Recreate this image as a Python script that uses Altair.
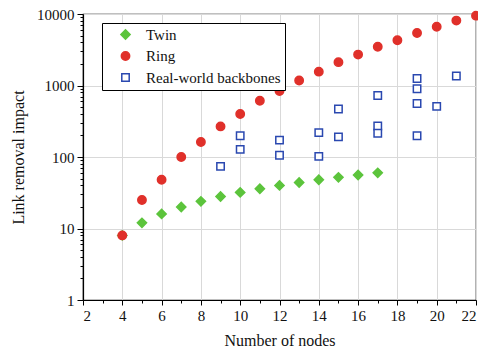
import altair as alt
import pandas as pd

series_names = ["Twin", "Ring", "Real-world backbones"]

twin_nodes = [4, 5, 6, 7, 8, 9, 10, 11, 12, 13, 14, 15, 16, 17]
twin_vals = [8, 12, 16, 20, 24, 28, 32, 36, 40, 44, 48, 52, 56, 60]

ring_nodes = [4, 5, 6, 7, 8, 9, 10, 11, 12, 13, 14, 15, 16, 17, 18, 19, 20, 21, 22]
ring_vals = [8, 25, 48, 100, 162, 268, 400, 611, 839, 1173, 1560, 2120, 2705,
             3485, 4295, 5430, 6625, 8090, 9480]

real_nodes = [9, 10, 10, 12, 12, 14, 14, 15, 15, 17, 17, 17, 19, 19, 19, 19, 20, 21]
real_vals = [74, 198, 128, 172, 106, 219, 102, 469, 191, 723, 271, 215,
             1250, 902, 561, 198, 510, 1360]

x_ticks = [2, 3, 4, 5, 6, 7, 8, 9, 10, 11, 12, 13, 14, 15, 16, 17, 18, 19, 20, 21, 22]
y_ticks = [m * d for d in [1, 10, 100, 1000] for m in range(1, 10)] + [10000]

rows = []
for n, v in zip(twin_nodes, twin_vals):
    rows.append({"nodes": n, "impact": v, "series": series_names[0]})
for n, v in zip(ring_nodes, ring_vals):
    rows.append({"nodes": n, "impact": v, "series": series_names[1]})
for n, v in zip(real_nodes, real_vals):
    rows.append({"nodes": n, "impact": v, "series": series_names[2]})
df = pd.DataFrame(rows)

stroke_colors = ["#5cc43c", "#e0302a", "#2a48b0"]
fill_colors = ["#5cc43c", "#e0302a", "#ffffff"]
shapes = ["diamond", "circle", "square"]
sizes = [85, 55, 42]

FONT = "Liberation Serif"
x_major_test = "datum.value % 2 == 0"
y_major_test = "indexof([1, 10, 100, 1000, 10000], datum.value) >= 0"

legend = alt.Legend(
    title=None,
    orient="none",
    legendX=19,
    legendY=9,
    strokeColor="black",
    fillColor="white",
    padding=4,
    symbolOffset=12,
    labelOffset=13,
    rowPadding=5.5,
    labelFont=FONT,
    labelFontSize=15,
    labelColor="#111111",
    symbolStrokeWidth=1.5,
    labelLimit=300,
)

chart = alt.Chart(df).mark_point(filled=False, strokeWidth=1.5, opacity=1).encode(
    x=alt.X(
        "nodes:Q",
        scale=alt.Scale(domain=[2, 22], nice=False, zero=False),
        axis=alt.Axis(
            values=x_ticks,
            labelExpr="datum.value % 2 == 0 ? datum.label : ''",
            tickSize={"condition": {"test": x_major_test, "value": 5}, "value": 3},
            gridOpacity={"condition": {"test": x_major_test, "value": 1}, "value": 0},
            title="Number of nodes",
            titlePadding=9,
            labelPadding=3,
            labelFont=FONT,
            titleFont=FONT,
            labelFontSize=15,
            titleFontSize=16,
        ),
    ),
    y=alt.Y(
        "impact:Q",
        scale=alt.Scale(type="log", domain=[1, 10000], nice=False),
        axis=alt.Axis(
            values=y_ticks,
            labelExpr="indexof([1, 10, 100, 1000, 10000], datum.value) >= 0 ? datum.label : ''",
            format="d",
            tickSize={"condition": {"test": y_major_test, "value": 6}, "value": 3},
            gridOpacity={"condition": {"test": y_major_test, "value": 1}, "value": 0},
            title="Link removal impact",
            titlePadding=10,
            labelPadding=3,
            labelFont=FONT,
            titleFont=FONT,
            labelFontSize=15,
            titleFontSize=16,
        ),
    ),
    color=alt.Color("series:N", scale=alt.Scale(domain=series_names, range=stroke_colors), legend=legend),
    fill=alt.Fill("series:N", scale=alt.Scale(domain=series_names, range=fill_colors), legend=legend),
    shape=alt.Shape("series:N", scale=alt.Scale(domain=series_names, range=shapes), legend=legend),
    size=alt.Size("series:N", scale=alt.Scale(domain=series_names, range=sizes), legend=legend),
).properties(
    width=393,
    height=286,
    autosize="none",
    padding={"left": 75, "top": 6, "right": 2, "bottom": 47},
).configure(
    font=FONT,
).configure_view(
    stroke="black",
    strokeWidth=1.2,
).configure_axis(
    labelFont=FONT,
    titleFont=FONT,
    titleFontWeight="normal",
    labelColor="#111111",
    titleColor="#111111",
    domainColor="black",
    domainWidth=1.2,
    tickColor="black",
    tickWidth=1,
    gridColor="#d9d9d9",
    gridWidth=1,
).configure_legend(
    labelFont=FONT,
)

chart.save("out.html", embed_options={"renderer": "svg", "actions": False})
